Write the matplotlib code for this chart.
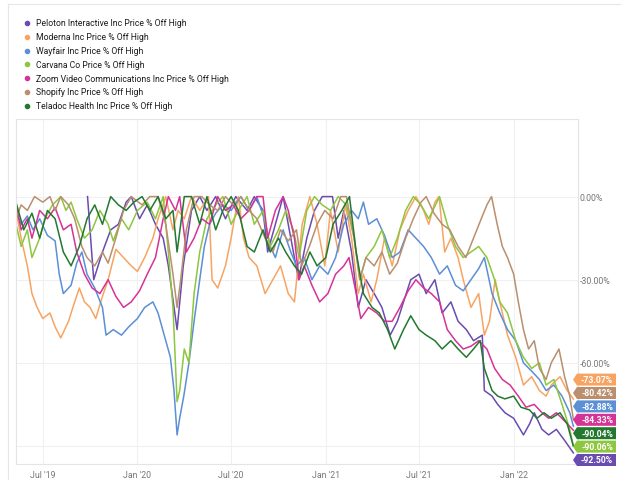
import matplotlib
matplotlib.use("Agg")
import matplotlib.pyplot as plt
import matplotlib.dates as mdates
from matplotlib.lines import Line2D
from matplotlib.patches import Polygon
import pandas as pd

# series names / colours (legend order)
names = ["Peloton Interactive Inc Price % Off High", "Moderna Inc Price % Off High",
         "Wayfair Inc Price % Off High", "Carvana Co Price % Off High",
         "Zoom Video Communications Inc Price % Off High", "Shopify Inc Price % Off High",
         "Teladoc Health Inc Price % Off High"]
colors = ["#6a4cb0", "#f7a463", "#5b8fd6", "#8dc63f", "#d63397", "#b98f6e", "#23782f"]

peloton_dates = ["2019-09-26", "2019-10-08", "2019-10-25", "2019-11-10", "2019-11-25", "2019-12-10", "2019-12-20",
                 "2020-01-05", "2020-01-20", "2020-02-05", "2020-02-20", "2020-03-01", "2020-03-18", "2020-03-30",
                 "2020-04-15", "2020-05-01", "2020-05-15", "2020-06-01", "2020-06-20", "2020-07-10", "2020-08-01",
                 "2020-08-15", "2020-09-01", "2020-09-10", "2020-09-25", "2020-10-10", "2020-10-25", "2020-11-09",
                 "2020-11-25", "2020-12-10", "2020-12-25", "2021-01-14", "2021-01-25", "2021-02-05", "2021-02-20",
                 "2021-03-05", "2021-03-20", "2021-04-05", "2021-04-20", "2021-05-06", "2021-05-20", "2021-06-01",
                 "2021-06-15", "2021-07-01", "2021-07-15", "2021-08-01", "2021-08-15", "2021-09-01", "2021-09-15",
                 "2021-10-01", "2021-10-15", "2021-11-01", "2021-11-05", "2021-11-20", "2021-12-01", "2021-12-15",
                 "2022-01-01", "2022-01-20", "2022-02-01", "2022-02-10", "2022-02-25", "2022-03-10", "2022-03-25",
                 "2022-04-10", "2022-04-27"]
peloton_vals = [0, -30, -20, -12, -10, -2, 0,
                -8, -3, -10, -15, -25, -48, -25,
                -5, 0, -5, 0, -8, 0, -5,
                0, -5, -20, -10, 0, -15, -30,
                -15, -5, 0, 0, -15, -5, -20,
                -40, -30, -35, -40, -50, -45, -38,
                -30, -28, -35, -30, -42, -38, -45,
                -48, -52, -50, -70, -72, -75, -78,
                -80, -86, -82, -78, -84, -86, -84,
                -88, -92.50]

moderna_dates = ["2019-05-10", "2019-05-20", "2019-06-01", "2019-06-10", "2019-06-20", "2019-07-01", "2019-07-15",
                 "2019-07-25", "2019-08-05", "2019-08-20", "2019-09-01", "2019-09-10", "2019-09-20", "2019-10-01",
                 "2019-10-12", "2019-10-25", "2019-11-05", "2019-11-20", "2019-12-05", "2019-12-20", "2020-01-01",
                 "2020-01-15", "2020-01-31", "2020-02-10", "2020-02-25", "2020-03-10", "2020-03-20", "2020-04-01",
                 "2020-04-15", "2020-05-01", "2020-05-18", "2020-05-25", "2020-06-05", "2020-06-20", "2020-07-01",
                 "2020-07-15", "2020-07-25", "2020-08-05", "2020-08-20", "2020-09-05", "2020-09-20", "2020-10-05",
                 "2020-10-20", "2020-11-01", "2020-11-16", "2020-12-01", "2020-12-15", "2020-12-30", "2021-01-10",
                 "2021-01-25", "2021-02-08", "2021-02-20", "2021-03-05", "2021-03-15", "2021-03-30", "2021-04-10",
                 "2021-04-25", "2021-05-10", "2021-05-25", "2021-06-10", "2021-06-25", "2021-07-10", "2021-07-20",
                 "2021-08-01", "2021-08-09", "2021-08-20", "2021-09-01", "2021-09-15", "2021-09-25", "2021-10-10",
                 "2021-10-25", "2021-11-05", "2021-11-15", "2021-11-26", "2021-12-05", "2021-12-20", "2022-01-05",
                 "2022-01-20", "2022-02-05", "2022-02-20", "2022-03-05", "2022-03-15", "2022-04-01", "2022-04-15",
                 "2022-04-27"]
moderna_vals = [-5, -15, -25, -35, -40, -44, -42,
                -47, -51, -45, -38, -33, -38, -40,
                -44, -36, -30, -19, -22, -25, -27,
                -22, -15, -8, 0, -12, -5, -8,
                0, -5, 0, -30, -33, -25, -15,
                0, -15, -22, -25, -35, -30, -25,
                -35, -38, -10, 0, -10, -25, -5,
                -20, -3, -15, -35, -28, -38, -30,
                -15, -25, -12, -5, 0, -5, -10,
                -2, 0, -20, -15, -22, -30, -40,
                -35, -50, -45, -30, -38, -50, -58,
                -68, -65, -70, -72, -68, -65, -70,
                -73.07]

wayfair_dates = ["2019-05-10", "2019-05-20", "2019-06-01", "2019-06-12", "2019-06-25", "2019-07-10", "2019-07-25",
                 "2019-08-02", "2019-08-10", "2019-08-25", "2019-09-05", "2019-09-15", "2019-09-25", "2019-10-10",
                 "2019-10-25", "2019-11-01", "2019-11-15", "2019-12-01", "2019-12-15", "2020-01-01", "2020-01-15",
                 "2020-01-31", "2020-02-10", "2020-02-25", "2020-03-05", "2020-03-12", "2020-03-18", "2020-03-23",
                 "2020-03-31", "2020-04-10", "2020-04-20", "2020-05-01", "2020-05-10", "2020-05-20", "2020-06-01",
                 "2020-06-15", "2020-07-01", "2020-07-20", "2020-08-05", "2020-08-20", "2020-09-03", "2020-09-15",
                 "2020-09-25", "2020-10-10", "2020-10-25", "2020-11-05", "2020-11-20", "2020-12-05", "2020-12-20",
                 "2021-01-05", "2021-01-20", "2021-02-05", "2021-02-20", "2021-03-05", "2021-03-15", "2021-03-25",
                 "2021-04-10", "2021-04-25", "2021-05-10", "2021-05-25", "2021-06-10", "2021-06-25", "2021-07-10",
                 "2021-07-25", "2021-08-10", "2021-08-25", "2021-09-10", "2021-09-25", "2021-10-10", "2021-10-25",
                 "2021-11-05", "2021-11-20", "2021-12-05", "2021-12-20", "2022-01-05", "2022-01-20", "2022-02-05",
                 "2022-02-20", "2022-03-05", "2022-03-20", "2022-04-05", "2022-04-20", "2022-04-27"]
wayfair_vals = [-5, -10, -7, -12, -8, -14, -16,
                -28, -35, -32, -24, -20, -28, -33,
                -40, -50, -48, -50, -47, -44, -40,
                -38, -42, -52, -58, -70, -86, -80,
                -72, -60, -45, -30, -18, -10, -6,
                -3, -5, 0, -5, 0, -8, -18,
                -22, -12, -20, -25, -22, -30, -25,
                -28, -22, -10, -5, -8, -2, -10,
                -8, -14, -22, -20, -12, -15, -18,
                -22, -28, -25, -32, -34, -30, -26,
                -22, -35, -42, -48, -52, -60, -63,
                -66, -70, -68, -72, -78, -82.88]

carvana_dates = ["2019-05-10", "2019-05-20", "2019-06-01", "2019-06-10", "2019-06-25", "2019-07-05", "2019-07-20",
                 "2019-08-05", "2019-08-15", "2019-08-25", "2019-09-05", "2019-09-20", "2019-10-05", "2019-10-20",
                 "2019-11-05", "2019-11-15", "2019-12-01", "2019-12-15", "2020-01-01", "2020-01-20", "2020-02-05",
                 "2020-02-20", "2020-03-01", "2020-03-10", "2020-03-18", "2020-03-23", "2020-04-01", "2020-04-10",
                 "2020-04-20", "2020-05-01", "2020-05-15", "2020-06-01", "2020-06-15", "2020-07-01", "2020-07-15",
                 "2020-08-01", "2020-08-15", "2020-09-01", "2020-09-15", "2020-10-01", "2020-10-15", "2020-10-30",
                 "2020-11-10", "2020-11-25", "2020-12-10", "2020-12-25", "2021-01-10", "2021-01-25", "2021-02-10",
                 "2021-02-25", "2021-03-08", "2021-03-20", "2021-04-05", "2021-04-20", "2021-05-05", "2021-05-20",
                 "2021-06-05", "2021-06-20", "2021-07-05", "2021-07-20", "2021-08-10", "2021-08-25", "2021-09-10",
                 "2021-09-25", "2021-10-10", "2021-10-25", "2021-11-10", "2021-11-25", "2021-12-05", "2021-12-20",
                 "2022-01-05", "2022-01-20", "2022-02-05", "2022-02-20", "2022-03-05", "2022-03-20", "2022-04-05",
                 "2022-04-20", "2022-04-27"]
carvana_vals = [-10, -18, -12, -22, -15, -8, -3,
                0, -5, -2, -8, -15, -12, -5,
                -10, -16, -8, -12, -5, -2, -8,
                0, -20, -40, -74, -70, -55, -60,
                -35, -20, -8, -3, 0, -10, -5,
                0, -10, -5, -18, -12, -5, -12,
                -22, -5, 0, -3, -5, 0, -3,
                -15, -30, -22, -18, -12, -22, -15,
                -5, 0, -3, -8, 0, -10, -18,
                -22, -20, -18, -22, -30, -38, -42,
                -52, -58, -62, -60, -68, -66, -75,
                -84, -90.06]

zoom_dates = ["2019-05-10", "2019-05-20", "2019-06-01", "2019-06-10", "2019-06-25", "2019-07-10", "2019-07-25",
              "2019-08-10", "2019-08-25", "2019-09-05", "2019-09-20", "2019-10-05", "2019-10-20", "2019-11-05",
              "2019-11-20", "2019-12-05", "2019-12-20", "2020-01-05", "2020-01-20", "2020-02-05", "2020-02-20",
              "2020-03-01", "2020-03-15", "2020-03-23", "2020-04-05", "2020-04-20", "2020-05-05", "2020-05-20",
              "2020-06-05", "2020-06-20", "2020-07-05", "2020-07-20", "2020-08-05", "2020-08-20", "2020-09-01",
              "2020-09-10", "2020-09-25", "2020-10-10", "2020-10-20", "2020-11-01", "2020-11-10", "2020-11-20",
              "2020-12-05", "2020-12-20", "2021-01-05", "2021-01-20", "2021-02-05", "2021-02-15", "2021-03-01",
              "2021-03-10", "2021-03-25", "2021-04-10", "2021-04-25", "2021-05-10", "2021-05-25", "2021-06-10",
              "2021-06-25", "2021-07-10", "2021-07-25", "2021-08-10", "2021-08-25", "2021-09-10", "2021-09-25",
              "2021-10-10", "2021-10-25", "2021-11-10", "2021-11-25", "2021-12-10", "2021-12-25", "2022-01-10",
              "2022-01-25", "2022-02-10", "2022-02-25", "2022-03-10", "2022-03-25", "2022-04-10", "2022-04-27"]
zoom_vals = [-3, -12, -8, -15, -5, -8, -4,
             -12, -10, -20, -28, -33, -35, -30,
             -36, -40, -38, -34, -28, -22, -8,
             0, -5, 0, -20, -15, -8, -10,
             0, -5, -3, -8, -5, 0, 0,
             -15, -5, 0, -5, -15, -30, -25,
             -32, -38, -35, -28, -25, -22, -35,
             -44, -40, -42, -45, -45, -40, -34,
             -30, -33, -35, -38, -48, -52, -55,
             -54, -52, -55, -62, -66, -68, -72,
             -76, -75, -78, -80, -78, -81, -84.33]

shopify_dates = ["2019-05-10", "2019-05-20", "2019-06-01", "2019-06-15", "2019-07-01", "2019-07-15", "2019-07-25",
                 "2019-08-05", "2019-08-20", "2019-09-01", "2019-09-15", "2019-09-25", "2019-10-10", "2019-10-25",
                 "2019-11-05", "2019-11-20", "2019-12-05", "2019-12-20", "2020-01-10", "2020-01-25", "2020-02-10",
                 "2020-02-25", "2020-03-10", "2020-03-18", "2020-03-25", "2020-04-05", "2020-04-20", "2020-05-05",
                 "2020-05-20", "2020-06-05", "2020-06-20", "2020-07-05", "2020-07-20", "2020-08-05", "2020-08-20",
                 "2020-09-05", "2020-09-20", "2020-10-05", "2020-10-20", "2020-11-05", "2020-11-15", "2020-11-30",
                 "2020-12-15", "2020-12-30", "2021-01-15", "2021-01-30", "2021-02-10", "2021-02-25", "2021-03-08",
                 "2021-03-20", "2021-04-05", "2021-04-20", "2021-05-05", "2021-05-20", "2021-06-05", "2021-06-20",
                 "2021-07-05", "2021-07-15", "2021-07-30", "2021-08-15", "2021-08-30", "2021-09-15", "2021-09-30",
                 "2021-10-15", "2021-10-30", "2021-11-10", "2021-11-19", "2021-11-30", "2021-12-10", "2021-12-20",
                 "2022-01-01", "2022-01-10", "2022-01-20", "2022-01-30", "2022-02-10", "2022-02-20", "2022-03-05",
                 "2022-03-15", "2022-03-30", "2022-04-10", "2022-04-20", "2022-04-27"]
shopify_vals = [-8, -3, -5, 0, -2, 0, -5,
                0, -3, -8, -18, -22, -25, -20,
                -24, -15, -5, 0, -3, 0, 0,
                -10, -28, -40, -30, -12, 0, 0,
                -3, -5, 0, -3, 0, -5, -8,
                -15, -20, -12, -16, -12, -25, -18,
                -10, -5, -8, 0, 0, -15, -30,
                -22, -25, -20, -28, -24, -15, -8,
                -2, 0, -6, -10, -12, -18, -22,
                -15, -8, -3, 0, -10, -18, -22,
                -28, -38, -48, -55, -52, -62, -66,
                -60, -55, -65, -72, -80.42]

teladoc_dates = ["2019-05-10", "2019-05-25", "2019-06-10", "2019-06-25", "2019-07-10", "2019-07-25", "2019-08-10",
                 "2019-08-25", "2019-09-10", "2019-09-25", "2019-10-10", "2019-10-25", "2019-11-10", "2019-11-25",
                 "2019-12-10", "2019-12-25", "2020-01-10", "2020-01-25", "2020-02-10", "2020-02-25", "2020-03-10",
                 "2020-03-18", "2020-04-01", "2020-04-15", "2020-05-01", "2020-05-15", "2020-06-01", "2020-06-15",
                 "2020-07-01", "2020-07-15", "2020-08-01", "2020-08-15", "2020-09-01", "2020-09-15", "2020-10-01",
                 "2020-10-15", "2020-11-01", "2020-11-15", "2020-12-01", "2020-12-15", "2021-01-01", "2021-01-15",
                 "2021-02-01", "2021-02-16", "2021-03-01", "2021-03-15", "2021-04-01", "2021-04-15", "2021-05-01",
                 "2021-05-15", "2021-06-01", "2021-06-15", "2021-07-01", "2021-07-15", "2021-08-01", "2021-08-15",
                 "2021-09-01", "2021-09-15", "2021-10-01", "2021-10-15", "2021-10-28", "2021-11-05", "2021-11-20",
                 "2021-12-01", "2021-12-15", "2022-01-01", "2022-01-15", "2022-02-01", "2022-02-15", "2022-03-01",
                 "2022-03-15", "2022-04-01", "2022-04-15", "2022-04-27"]
teladoc_vals = [-2, -12, -6, -15, -5, -8, -20,
                -25, -18, -8, -3, -10, 0, -3,
                -5, -2, 0, -5, 0, -8, -5,
                -20, 0, 0, -10, 0, -12, -5,
                0, -5, -18, -20, -12, -20, -15,
                -20, -25, -28, -20, -25, -22, -10,
                -5, 0, -20, -35, -40, -42, -48,
                -55, -48, -43, -48, -50, -52, -55,
                -52, -55, -58, -55, -52, -62, -70,
                -72, -73, -72, -76, -77, -80, -78,
                -80, -78, -82, -90.04]

series_dates = [peloton_dates, moderna_dates, wayfair_dates, carvana_dates, zoom_dates, shopify_dates, teladoc_dates]
series_vals = [peloton_vals, moderna_vals, wayfair_vals, carvana_vals, zoom_vals, shopify_vals, teladoc_vals]

y_ticks = [0, -30, -60, -90]
x_ticks = ["2019-07-01", "2020-01-01", "2020-07-01", "2021-01-01", "2021-07-01", "2022-01-01"]

plt.rcParams['font.family'] = ['Liberation Sans Narrow', 'Roboto', 'DejaVu Sans']

W, H = 621, 481
fig = plt.figure(figsize=(W / 100, H / 100), dpi=100)
fig.patch.set_facecolor("white")
ax = fig.add_axes([16 / W, 1 - 465 / H, (578 - 16) / W, (465 - 120) / H])

for d, v, c in zip(series_dates, series_vals, colors):
    ax.plot(pd.to_datetime(d), v, color=c, lw=1.1, solid_joinstyle="round")

ax.set_xlim(pd.Timestamp("2019-05-10"), pd.Timestamp("2022-05-06"))
ax.set_ylim(-96.5, 28)

ax.set_yticks(y_ticks)
# the -90% label sits under the end-value tags in the reference, so it stays blank
ax.set_yticklabels([f"{t:.2f}%" if t > -90 else "" for t in y_ticks])
ax.yaxis.tick_right()
ax.set_xticks(pd.to_datetime(x_ticks))
ax.xaxis.set_major_formatter(mdates.DateFormatter("%b '%y"))
ax.tick_params(length=0, labelsize=6.3, colors="#777777")
ax.tick_params(axis="y", pad=1)
ax.tick_params(axis="x", pad=4)
ax.grid(True, color="#f0f0f0", lw=0.8)
ax.set_axisbelow(True)
for s in ax.spines.values():
    s.set_color("#e4e4e4")
    s.set_linewidth(0.8)

# outer screenshot frame
fig.add_artist(Line2D([8 / W, 8 / W], [0, 1 - 5 / H], color="#e6e6e6", lw=0.8))
fig.add_artist(Line2D([8 / W, 1], [1 - 5 / H, 1 - 5 / H], color="#e6e6e6", lw=0.8))

# legend
for i, (n, c) in enumerate(zip(names, colors)):
    yy = 1 - (24 + i * 13.8) / H
    fig.add_artist(Line2D([27 / W], [yy], marker="o", ms=3, color=c, ls="none"))
    fig.text(36 / W, yy, n, fontsize=6.2, color="#1a1a1a", va="center", ha="left")

# end-value tags, stacked upward from the bottom of the plot
fig.canvas.draw()
bb = ax.get_window_extent()
last = sorted([(v[-1], c) for v, c in zip(series_vals, colors)])
step = 13.4
for k, (val, c) in enumerate(last):
    yc = bb.y0 + 4 + k * step
    x0 = bb.x1 - 5
    pts = [(x0, yc), (x0 + 4, yc + 6), (bb.x1 + 38, yc + 6), (bb.x1 + 38, yc - 6), (x0 + 4, yc - 6)]
    fig.add_artist(Polygon(pts, closed=True, transform=None, facecolor=c, edgecolor="none"))
    fig.text((bb.x1 + 19) / W, yc / H, f"{val:.2f}%", fontsize=6.2, color="white",
             fontweight="bold", ha="center", va="center")

plt.savefig("out.png", dpi=100)
